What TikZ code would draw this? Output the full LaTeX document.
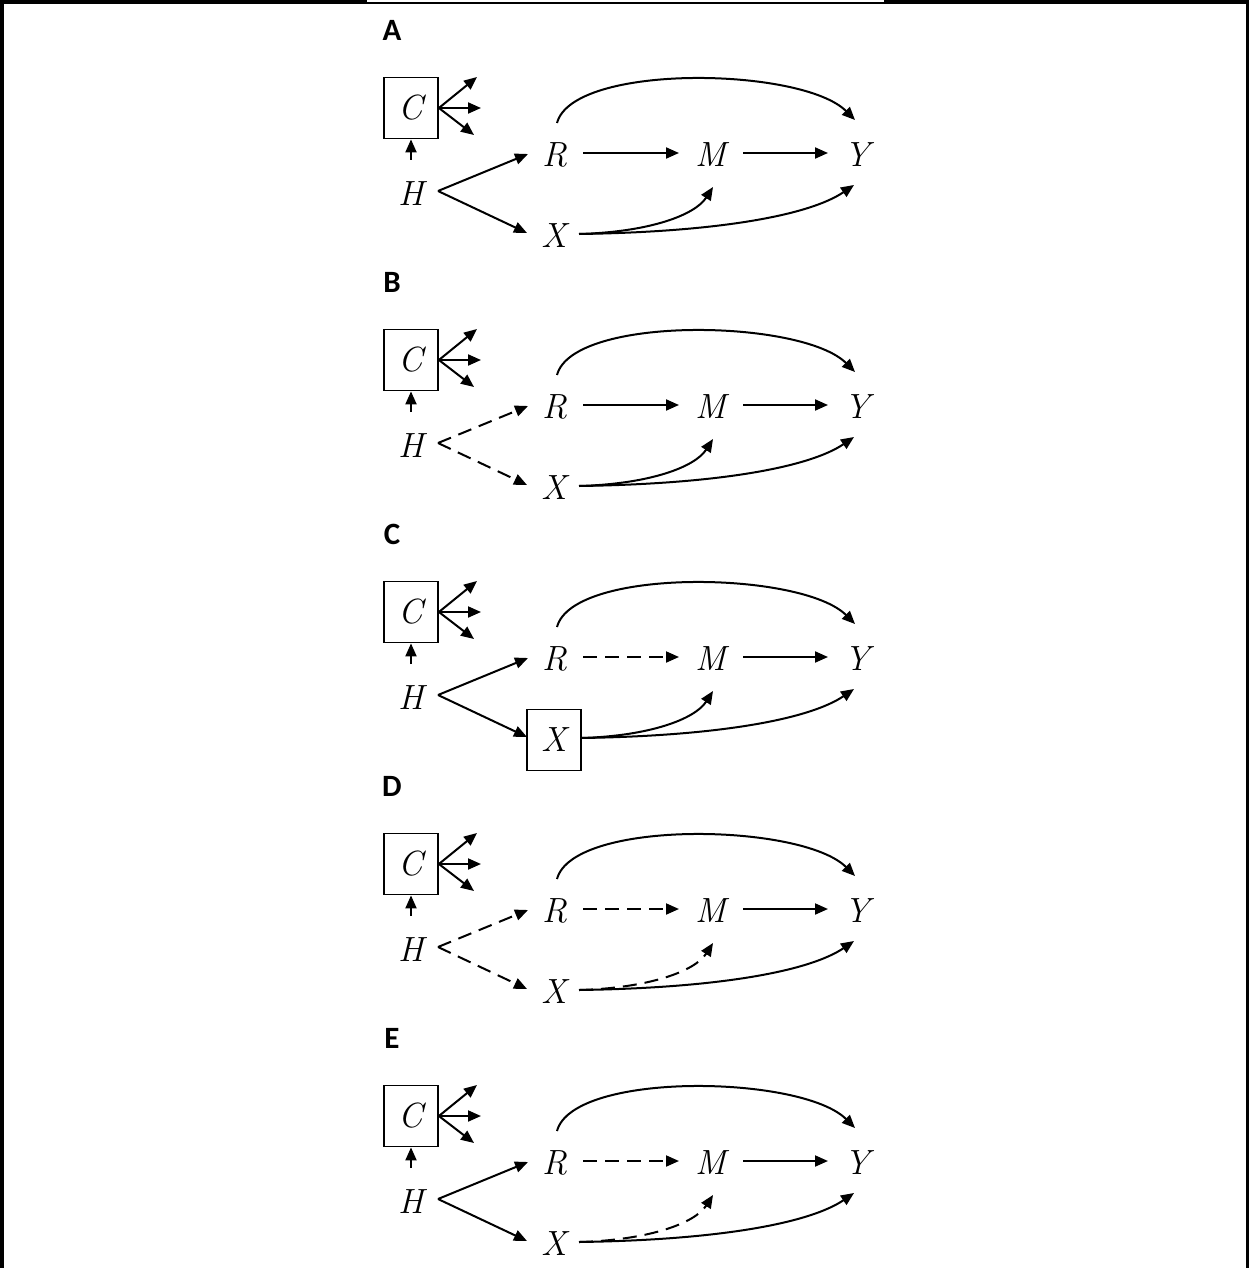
\documentclass[tikz,border=0pt]{standalone}
\usepackage{fontspec}
\newfontfamily\lblfont{Carlito}
\usetikzlibrary{arrows.meta}
\tikzset{
  arr/.style={line width=2pt, -{Triangle[length=13pt,width=11pt]}},
  dsh/.style={dash pattern=on 14pt off 8pt},
  sol/.style={},
  var/.style={inner sep=0pt, font=\fontsize{35}{40}\selectfont\itshape},
  boxed/.style={draw, line width=1.8pt, minimum width=54pt, minimum height=61pt, inner sep=0pt, font=\fontsize{35}{40}\selectfont\itshape},
  lbl/.style={font=\lblfont\bfseries\fontsize{31}{36}\selectfont, inner sep=0pt},
  frame/.style={line width=#1},
}
\begin{document}
\begin{tikzpicture}[x=1pt,y=-1pt]
\useasboundingbox (0,0) rectangle (1249,1268);
% outer frame
\draw[frame=4pt] (0,2) -- (367,2);
\draw[frame=2pt] (367,3.5) -- (884,3.5);
\draw[frame=4pt] (884,2) -- (1249,2);
\draw[frame=3.5pt] (1.75,0) -- (1.75,1268);
\draw[frame=3.5pt] (1247.25,0) -- (1247.25,1268);
\foreach \p/\L/\hs/\rs/\xs/\xb/\xo [count=\i] in
  {0/A/sol/sol/sol/var/25, 252/B/dsh/sol/sol/var/25, 504/C/sol/dsh/sol/boxed/27,
   756/D/dsh/dsh/dsh/var/25, 1008/E/sol/dsh/dsh/var/25} {
  \begin{scope}[shift={(0,\p)}]
    \node[lbl] (lab\i) at (392,30.5) {\L};
    \node[boxed] (C\i) at (411,108) {C};
    \node[var] (H\i) at (411,194) {H};
    \node[var] (R\i) at (555,155) {R};
    \node[var] (M\i) at (711,155) {M};
    \node[var] (Y\i) at (857,155) {Y};
    \node[\xb] (X\i) at (554,236) {X};
    \coordinate (ca\i) at (477,77);
    \coordinate (cb\i) at (481,108);
    \coordinate (cc\i) at (474,135);
    % C outgoing arrows
    \draw[arr] (C\i.east) -- (ca\i);
    \draw[arr] (C\i.east) -- (cb\i);
    \draw[arr] (C\i.east) -- (cc\i);
    % H -> C
    \draw[arr] ([shift={(0,-34)}]H\i.center) -- (C\i.south);
    % H -> R, H -> X
    \draw[arr,\hs] ([shift={(27,-3)}]H\i.center) -- ([shift={(-27,-1)}]R\i.center);
    \draw[arr,\hs] ([shift={(27,-3)}]H\i.center) -- ([shift={(-27,-3)}]X\i.center);
    % R -> M, M -> Y
    \draw[arr,\rs] ([shift={(28,-2)}]R\i.center) -- ([shift={(-32,-2)}]M\i.center);
    \draw[arr] ([shift={(32,-2)}]M\i.center) -- ([shift={(-29,-2)}]Y\i.center);
    % R -> Y (arc over the top)
    \draw[arr] ([shift={(2,-32)}]R\i.center)
      .. controls ([shift={(18,-92)}]R\i.center) and ([shift={(-55,-88)}]Y\i.center)
      .. ([shift={(-2,-35)}]Y\i.center);
    % X -> M
    \draw[arr,\xs] ([shift={(\xo,-2)}]X\i.center)
      .. controls ([shift={(96,-4)}]X\i.center) and ([shift={(-16,60)}]M\i.center)
      .. ([shift={(2,32)}]M\i.center);
    % X -> Y
    \draw[arr] ([shift={(\xo,-2)}]X\i.center)
      .. controls ([shift={(166,-4)}]X\i.center) and ([shift={(-47,60)}]Y\i.center)
      .. ([shift={(-3,30)}]Y\i.center);
  \end{scope}
}
\end{tikzpicture}
\end{document}
